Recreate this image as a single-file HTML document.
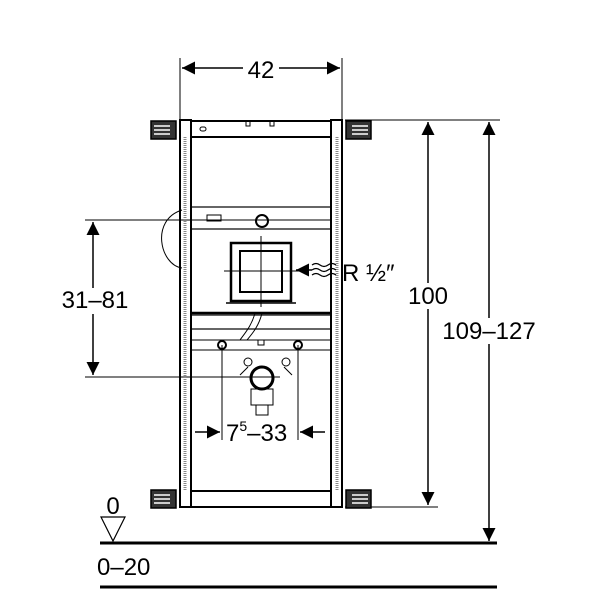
<!DOCTYPE html>
<html><head><style>body{margin:0;background:#fff}svg{display:block}text{font-family:"Liberation Sans",sans-serif;fill:#000}</style></head><body>
<svg width="600" height="600" viewBox="0 0 600 600">
<defs>
<marker id="b" viewBox="0 0 10 10" refX="10" refY="5" markerWidth="20" markerHeight="13" orient="auto-start-reverse" markerUnits="userSpaceOnUse"><path d="M0,0L10,5L0,10z" fill="#000"/></marker></defs>
<g stroke="#000" fill="none" stroke-width="1">
<line x1="180" y1="58" x2="180" y2="120"/><line x1="342" y1="58" x2="342" y2="120"/>
<line x1="345" y1="120" x2="500" y2="120"/><line x1="345" y1="507" x2="438" y2="507"/>
<line x1="85" y1="220" x2="330" y2="220"/><line x1="85" y1="377" x2="280" y2="377"/>
<line x1="222" y1="345" x2="222" y2="440"/><line x1="298" y1="345" x2="298" y2="440"/>
<line x1="182" y1="68" x2="340" y2="68" marker-start="url(#b)" marker-end="url(#b)" stroke-width="1.5"/>
<line x1="428" y1="122" x2="428" y2="505" marker-start="url(#b)" marker-end="url(#b)" stroke-width="1.5"/>
<line x1="489" y1="122" x2="489" y2="541" marker-start="url(#b)" marker-end="url(#b)" stroke-width="1.5"/>
<line x1="93" y1="222" x2="93" y2="375" marker-start="url(#b)" marker-end="url(#b)" stroke-width="1.5"/>
<line x1="195" y1="432" x2="220" y2="432" marker-end="url(#b)" stroke-width="1.5"/>
<line x1="325" y1="432" x2="300" y2="432" marker-end="url(#b)" stroke-width="1.5"/>
<line x1="312" y1="270" x2="296" y2="270" marker-end="url(#b)" stroke-width="1.5"/>
<line x1="100" y1="543" x2="497" y2="543" stroke-width="3"/>
<line x1="100" y1="587" x2="497" y2="587" stroke-width="3"/>
<path d="M101,517L125,517L113,541Z" stroke-width="1.2"/>
<rect x="180" y="120" width="11" height="387" stroke-width="2"/>
<rect x="331" y="120" width="11" height="387" stroke-width="2"/>
<line x1="185" y1="137" x2="185" y2="490" stroke="#888" stroke-width="3" stroke-dasharray="1 1"/>
<line x1="337" y1="137" x2="337" y2="490" stroke="#888" stroke-width="3" stroke-dasharray="1 1"/>
<rect x="191" y="121" width="140" height="16" stroke-width="2"/>
<rect x="191" y="491" width="140" height="16" stroke-width="2"/>
<rect x="151" y="121" width="25" height="18" fill="#333" stroke-width="1.5"/>
<rect x="346" y="121" width="25" height="18" fill="#333" stroke-width="1.5"/>
<rect x="151" y="490" width="25" height="18" fill="#333" stroke-width="1.5"/>
<rect x="346" y="490" width="25" height="18" fill="#333" stroke-width="1.5"/>
<g stroke="#fff" stroke-width="1.5"><line x1="154" y1="126" x2="170" y2="126"/><line x1="154" y1="130" x2="170" y2="130"/><line x1="154" y1="134" x2="170" y2="134"/>
<line x1="352" y1="126" x2="368" y2="126"/><line x1="352" y1="130" x2="368" y2="130"/><line x1="352" y1="134" x2="368" y2="134"/>
<line x1="154" y1="495" x2="170" y2="495"/><line x1="154" y1="499" x2="170" y2="499"/><line x1="154" y1="503" x2="170" y2="503"/>
<line x1="352" y1="495" x2="368" y2="495"/><line x1="352" y1="499" x2="368" y2="499"/><line x1="352" y1="503" x2="368" y2="503"/></g>
<rect x="200" y="127" width="6" height="4" rx="2"/><rect x="246" y="121" width="4" height="5"/><rect x="270" y="121" width="4" height="5"/>
<rect x="191" y="207" width="140" height="22" stroke-width="1.2"/>
<circle cx="262" cy="221" r="6" stroke-width="2"/>
<rect x="207" y="215" width="14" height="6"/>
<path d="M182,210C150,220 160,265 182,268"/>
<rect x="231" y="243" width="60" height="58" stroke-width="2.5"/>
<rect x="240" y="251" width="42" height="41" stroke-width="2"/>
<line x1="261" y1="236" x2="261" y2="307"/>
<line x1="224" y1="271" x2="300" y2="271"/>
<line x1="226" y1="303" x2="296" y2="303" stroke-width="1.5"/>
<line x1="191" y1="313" x2="331" y2="313" stroke-width="2.5"/>
<rect x="191" y="315" width="140" height="14" stroke-width="1.2"/>
<path d="M255,313C252,325 245,333 240,340M262,313C259,326 252,334 247,340"/>
<rect x="191" y="340" width="140" height="10"/>
<circle cx="222" cy="345" r="4" stroke-width="2"/><circle cx="298" cy="345" r="4" stroke-width="2"/>
<rect x="258" y="340" width="6" height="5"/>
<circle cx="262" cy="378" r="11" stroke-width="3"/>
<circle cx="248" cy="362" r="4"/><circle cx="286" cy="362" r="4"/>
<path d="M240,375L248,367M284,367L292,375"/>
<rect x="251" y="389" width="22" height="16"/>
<rect x="256" y="405" width="12" height="10"/>
<path d="M312,265q4,-3 8,0t8,0t8,0M312,270q4,-3 8,0t8,0t8,0M312,275q4,-3 8,0t8,0t8,0" stroke-width="1.2"/>
</g>
<g fill="#fff">
<rect x="243" y="58" width="36" height="22"/>
<rect x="407" y="283" width="44" height="26"/>
<rect x="440" y="318" width="98" height="26"/>
<rect x="60" y="288" width="70" height="26"/>
<rect x="224" y="420" width="70" height="26"/>
</g>
<g font-size="24">
<text x="261" y="78" text-anchor="middle">42</text>
<text x="428" y="304" text-anchor="middle">100</text>
<text x="489" y="339" text-anchor="middle">109–127</text>
<text x="95" y="308" text-anchor="middle">31–81</text>
<text x="342" y="281">R ½″</text>
<text x="226" y="441">7<tspan font-size="14" dy="-10">5</tspan><tspan dy="10">–33</tspan></text>
<text x="113" y="514" text-anchor="middle">0</text>
<text x="97" y="575">0–20</text>
</g>
</svg>
</body></html>
